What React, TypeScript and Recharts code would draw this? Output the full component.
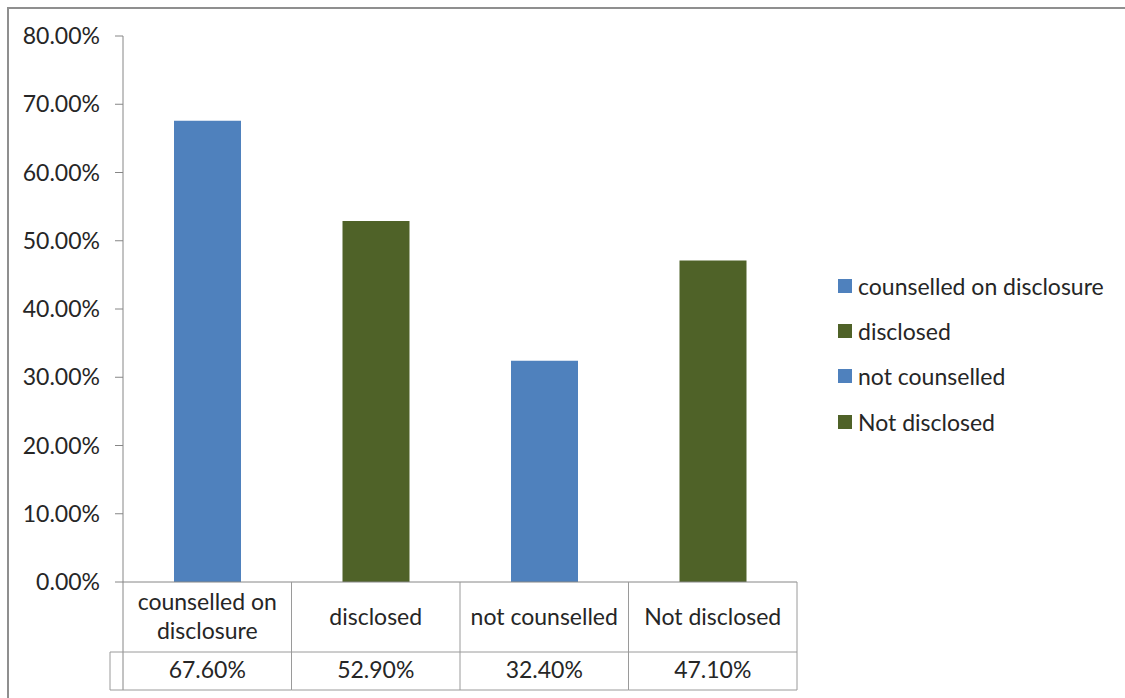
import React from 'react';
import { BarChart, Bar, XAxis, YAxis, Cell, Legend } from 'recharts';

// Chart values
const categories = ['counselled on disclosure', 'disclosed', 'not counselled', 'Not disclosed'];
const shares = [67.6, 52.9, 32.4, 47.1];
const barColors = ['#4F81BD', '#4F6228', '#4F81BD', '#4F6228'];
const yTicks = [0, 10, 20, 30, 40, 50, 60, 70, 80];

const data = categories.map((name, i) => ({ name, value: shares[i] }));

// Layout
const W = 1125;
const H = 698;
const MARGIN = { top: 36, right: 328, bottom: 0, left: 0 };
const Y_AXIS_W = 123;
const X_AXIS_H = 116;
const BAND = (W - MARGIN.left - MARGIN.right - Y_AXIS_W) / categories.length;
const FONT = 'Lato, "Noto Sans", sans-serif';
const FS = 23;
const TEXT = '#262626';
const GRID = '#9a9a9a';
const AXIS = '#868686';

const pct = (v: number) => `${v.toFixed(2)}%`;

function wrapLabel(label: string): string[] {
  if (label.length <= 16) return [label];
  const cut = label.lastIndexOf(' ', 14);
  return cut > 0 ? [label.slice(0, cut), label.slice(cut + 1)] : [label];
}

// Data table under the category axis: label row and value row
function TableCell(props: any) {
  const { x, y, payload, index } = props;
  const cx = x;
  const left = cx - BAND / 2;
  const right = cx + BAND / 2;
  const rowSplit = y + 70;
  const bottom = y + 108;
  const lines = wrapLabel(String(payload.value));
  const value = data[index]?.value ?? 0;
  return (
    <g>
      {index === 0 && (
        <g>
          <line x1={left} y1={y} x2={left} y2={bottom} stroke={AXIS} strokeWidth={1} />
          <line x1={left - 13} y1={rowSplit} x2={left} y2={rowSplit} stroke={GRID} />
          <line x1={left - 13} y1={bottom} x2={left} y2={bottom} stroke={GRID} />
          <line x1={left - 13} y1={rowSplit} x2={left - 13} y2={bottom} stroke={GRID} />
        </g>
      )}
      <line x1={right} y1={y} x2={right} y2={bottom} stroke={GRID} />
      <line x1={left} y1={rowSplit} x2={right} y2={rowSplit} stroke={GRID} />
      <line x1={left} y1={bottom} x2={right} y2={bottom} stroke={GRID} />
      {lines.length === 1 ? (
        <text x={cx} y={y + 43} textAnchor="middle" fontSize={FS} fontFamily={FONT} fill={TEXT}>
          {lines[0]}
        </text>
      ) : (
        lines.map((ln, i) => (
          <text key={i} x={cx} y={y + 28 + i * 29} textAnchor="middle" fontSize={FS} fontFamily={FONT} fill={TEXT}>
            {ln}
          </text>
        ))
      )}
      <text x={cx} y={y + 96} textAnchor="middle" fontSize={FS} fontFamily={FONT} fill={TEXT}>
        {pct(value)}
      </text>
    </g>
  );
}

function LegendBox() {
  return (
    <div style={{ fontFamily: FONT, fontSize: FS, color: TEXT }}>
      {categories.map((name, i) => (
        <div key={name} style={{ height: 45.4, display: 'flex', alignItems: 'center', whiteSpace: 'nowrap' }}>
          <span style={{ display: 'inline-block', width: 14, height: 14, background: barColors[i], marginRight: 6 }} />
          <span>{name}</span>
        </div>
      ))}
    </div>
  );
}

export default function App() {
  return (
    <div style={{ position: 'fixed', left: 0, top: 0, width: W, height: H, overflow: 'hidden', background: '#fff' }}>
      <div
        style={{
          position: 'absolute',
          left: 7,
          top: 7,
          width: W + 20,
          height: H + 20,
          borderTop: '2px solid #8f8f8f',
          borderLeft: '2px solid #8f8f8f',
          boxSizing: 'border-box',
        }}
      />
      <div style={{ position: 'absolute', left: 0, top: 0 }}>
        <BarChart width={W} height={H} data={data} margin={MARGIN}>
          <YAxis
            width={Y_AXIS_W}
            domain={[0, 80]}
            ticks={yTicks}
            interval={0}
            tickFormatter={(v: number) => pct(v)}
            tickSize={8}
            tickMargin={15}
            tickLine={{ stroke: AXIS }}
            axisLine={{ stroke: AXIS }}
            tick={{ fill: TEXT, fontSize: FS, fontFamily: FONT }}
          />
          <XAxis
            dataKey="name"
            height={X_AXIS_H}
            interval={0}
            tickLine={false}
            tickSize={0}
            tickMargin={0}
            axisLine={{ stroke: AXIS }}
            tick={<TableCell />}
          />
          <Legend
            layout="vertical"
            align="center"
            verticalAlign="middle"
            wrapperStyle={{ left: 838, top: 263, width: 287 }}
            content={() => <LegendBox />}
          />
          <Bar dataKey="value" barSize={67} isAnimationActive={false}>
            {data.map((d, i) => (
              <Cell key={d.name} fill={barColors[i]} />
            ))}
          </Bar>
        </BarChart>
      </div>
    </div>
  );
}
